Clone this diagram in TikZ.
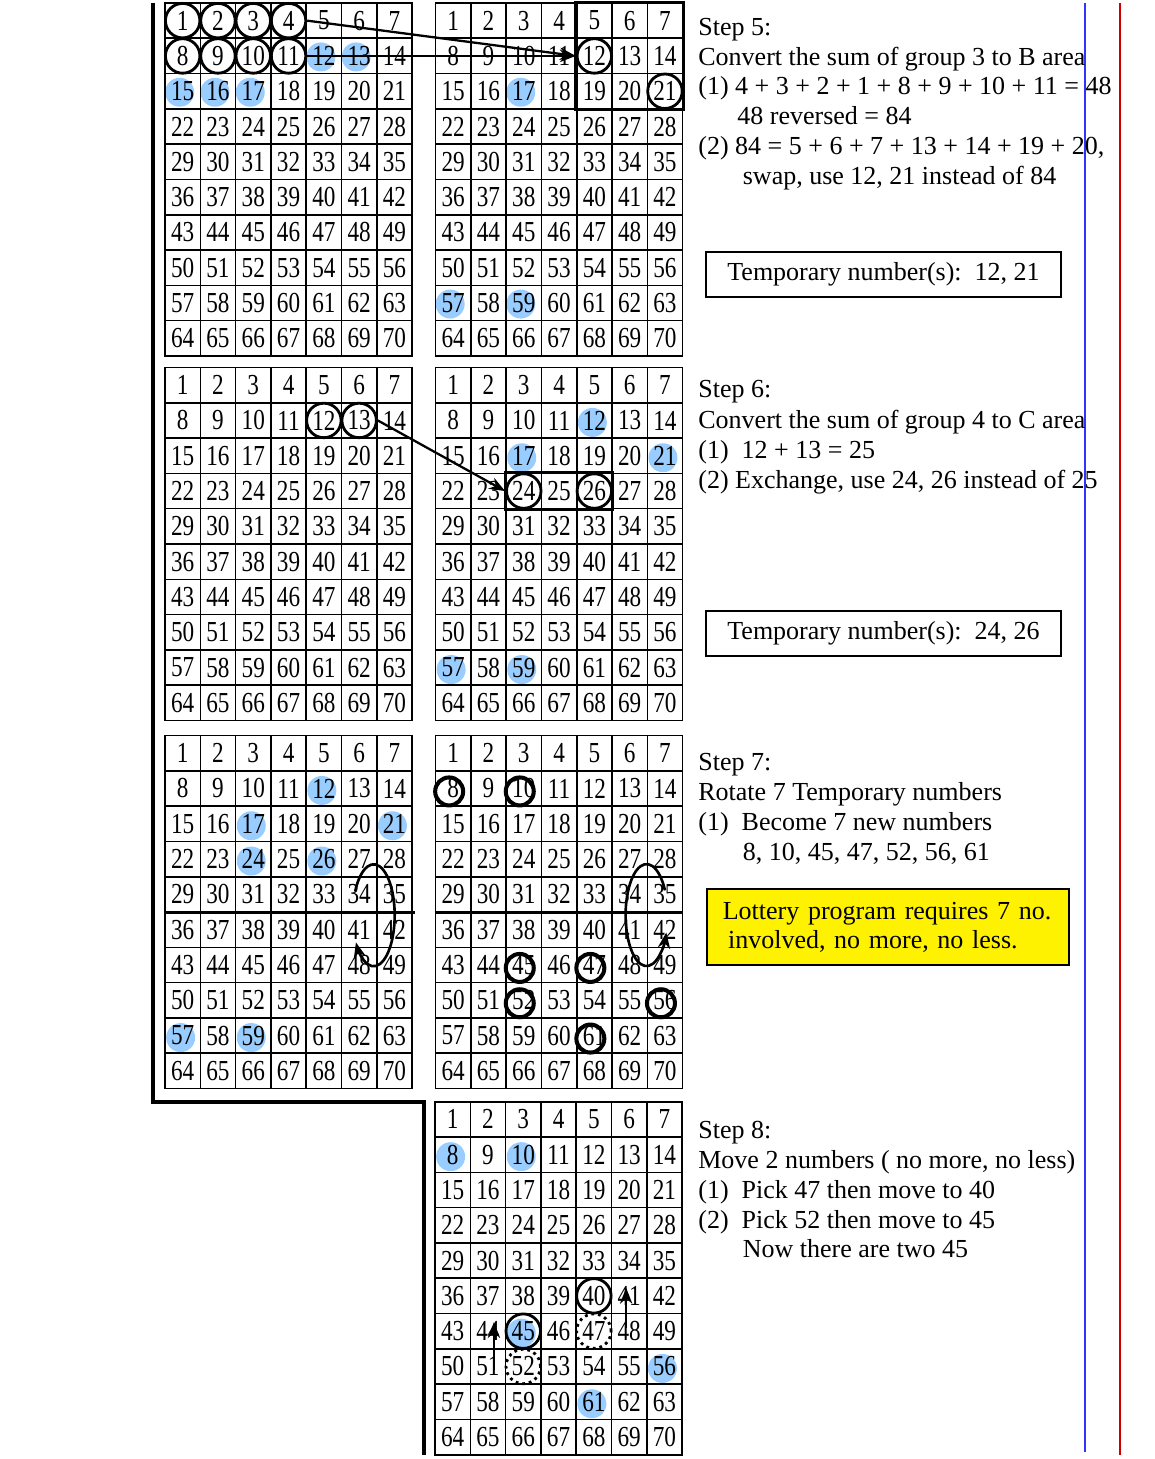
\documentclass[tikz,border=0pt]{standalone}
\usepackage{fontspec}
\setmainfont{Liberation Serif}
\newfontfamily\gridfont[FakeStretch=0.8]{Liberation Serif}
\usetikzlibrary{arrows.meta,calc,backgrounds}
\definecolor{dotblue}{RGB}{153,204,255}
\definecolor{lineblue}{RGB}{51,51,255}
\definecolor{linered}{RGB}{204,0,0}

% 7 x 10 number grid, top left corner at (#2,#3)
\newcommand{\numgrid}[3]{%
  \foreach \r in {0,...,9}{
    \foreach \c in {1,...,7}{
      \pgfmathtruncatemacro{\n}{7*\r+\c}
      \node[cell] (#1-\n) at ({#2+(\c-0.5)*35.3},{#3+(\r+0.5)*35.3}) {\n};
    }
  }%
}

\begin{document}
\begin{tikzpicture}[x=0.02cm, y=-0.02cm, >={Stealth[length=9pt,width=7pt]},
    cell/.style={draw, line width=0.9pt, minimum size=0.706cm, inner sep=0pt,
      font=\gridfont\fontsize{16.5}{18}\selectfont},
    dot/.style={circle, fill=dotblue, minimum size=0.58cm, inner sep=0pt},
    ring/.style={circle, draw, line width=1.6pt, minimum size=0.69cm, inner sep=0pt},
    dotring/.style={ring, dash pattern=on 1.6pt off 2.2pt},
    smallring/.style={circle, draw, line width=2.3pt, minimum size=0.56cm, inner sep=0pt},
    thickbox/.style={line width=1.9pt},
    move/.style={->, line width=1.3pt},
    txt/.style={anchor=base west, inner sep=0pt, font=\fontsize{14.8}{17}\selectfont},
    tempbox/.style={draw, line width=1pt, minimum width=7.1cm, minimum height=0.89cm,
      font=\fontsize{14.8}{17}\selectfont},
    note/.style={draw, fill=yellow, line width=1.3pt, text width=6.61cm, inner xsep=0.32cm,
      minimum height=1.52cm, align=left, font=\fontsize{14.8}{16.6}\selectfont}]
\useasboundingbox (0,0) rectangle (1154,1459);

% grids
\numgrid{a}{165}{3}
\numgrid{b}{435.5}{3}
\numgrid{c}{165}{367.5}
\numgrid{d}{435.5}{367.5}
\numgrid{e}{165}{735.5}
\numgrid{f}{435.5}{735.5}
\numgrid{g}{435}{1101.7}

% blue dots under the numbers
\begin{scope}[on background layer]
  \foreach \k in {12,13,15,16,17} \node[dot] (a-dot-\k) at ($(a-\k)+(-3,1)$) {};
  \foreach \k in {17,57,59} \node[dot] (b-dot-\k) at ($(b-\k)+(-3,1)$) {};
  \foreach \k in {12,17,21,57,59} \node[dot] (d-dot-\k) at ($(d-\k)+(-2,2)$) {};
  \foreach \k in {12,17,21,24,26,57,59} \node[dot] (e-dot-\k) at ($(e-\k)+(-2,2)$) {};
  \foreach \k in {8,10,45,56,61} \node[dot] (g-dot-\k) at ($(g-\k)+(-2,2)$) {};
\end{scope}

% step 5
\foreach \k in {1,2,3,4,8,9,10,11} \node[ring] (a-ring-\k) at (a-\k) {};
\foreach \k in {12,21} \node[ring] (b-ring-\k) at (b-\k) {};
\draw[thickbox] (b-5.north west) rectangle (b-21.south east);
\draw[move] (a-ring-4.east) -- (b-ring-12.west);
\draw[move] (a-ring-11.east) -- (b-ring-12.west);

% step 6
\foreach \k in {12,13} \node[ring] (c-ring-\k) at (c-\k) {};
\foreach \k in {24,26} \node[ring] (d-ring-\k) at (d-\k) {};
\draw[thickbox] (d-24.north west) rectangle (d-26.south east);
\draw[move] (c-ring-13.east) -- (d-ring-24.west);

% step 7
\draw[line width=1.6pt] (e-29.south west) -- ($(e-35.south east)+(2,0)$);
\draw[line width=1.6pt] (f-29.south west) -- (f-35.south east);
\foreach \k in {8,10,45,47,52,56,61} \node[smallring] (f-ring-\k) at ($(f-\k)+(-4,3)$) {};
\draw[move, line width=1.5pt] ($(e-34)+(-4,-3)$) arc[start angle=152, end angle=-148, x radius=0.42cm, y radius=1.02cm];
\draw[move, line width=1.5pt] ($(f-35)+(0,-4)$) arc[start angle=29, end angle=340, x radius=0.42cm, y radius=1.02cm];

% step 8
\foreach \k in {40,45} \node[ring] (g-ring-\k) at (g-\k) {};
\foreach \k in {47,52} \node[dotring] (g-ring-\k) at (g-\k) {};
\draw[move] ($(g-51)+(6,4)$) -- ($(g-44)+(6,-9)$);
\draw[move] ($(g-48)+(-3,-3)$) -- ($(g-41)+(-3,-8)$);

% frame lines
\draw[line width=2.6pt] (153,3) -- (153,1102) -- (424,1102) -- (424,1455);
\draw[lineblue, line width=1.1pt] (1085,3) -- (1085,1452);
\draw[linered, line width=1.1pt] (1120,3) -- (1120,1455);

% texts
\node[txt] (s5) at (698,36) {Step 5:};
\node[txt] (s5-a) at (698,65.5) {Convert the sum of group 3 to B area};
\node[txt] (s5-b) at (698,95) {(1) 4 + 3 + 2 + 1 + 8 + 9 + 10 + 11 = 48};
\node[txt] (s5-c) at (737,125) {48 reversed = 84};
\node[txt] (s5-d) at (698,155) {(2) 84 = 5 + 6 + 7 + 13 + 14 + 19 + 20,};
\node[txt] (s5-e) at (742.5,185) {swap, use 12, 21 instead of 84};
\node[tempbox] (temp5) at (883.5,274.5) {Temporary number(s):\ \ 12, 21};

\node[txt] (s6) at (698,398) {Step 6:};
\node[txt] (s6-a) at (698,428) {Convert the sum of group 4 to C area};
\node[txt] (s6-b) at (698,458) {(1)\ \ 12 + 13 = 25};
\node[txt] (s6-c) at (698,488) {(2) Exchange, use 24, 26 instead of 25};
\node[tempbox] (temp6) at (883.5,633.5) {Temporary number(s):\ \ 24, 26};

\node[txt] (s7) at (698,770) {Step 7:};
\node[txt] (s7-a) at (698,800) {Rotate 7 Temporary numbers};
\node[txt] (s7-b) at (698,830) {(1)\ \ Become 7 new numbers};
\node[txt] (s7-c) at (742.5,860) {8, 10, 45, 47, 52, 56, 61};
\node[note] (rule7) at (888,927) {Lottery program requires 7 no.\\\hspace*{3pt}involved, no more, no less.};

\node[txt] (s8) at (698,1138.3) {Step 8:};
\node[txt] (s8-a) at (698,1168.3) {Move 2 numbers ( no more, no less)};
\node[txt] (s8-b) at (698,1198.3) {(1)\ \ Pick 47 then move to 40};
\node[txt] (s8-c) at (698,1228.3) {(2)\ \ Pick 52 then move to 45};
\node[txt] (s8-d) at (742.5,1257.7) {Now there are two 45};
\end{tikzpicture}
\end{document}
